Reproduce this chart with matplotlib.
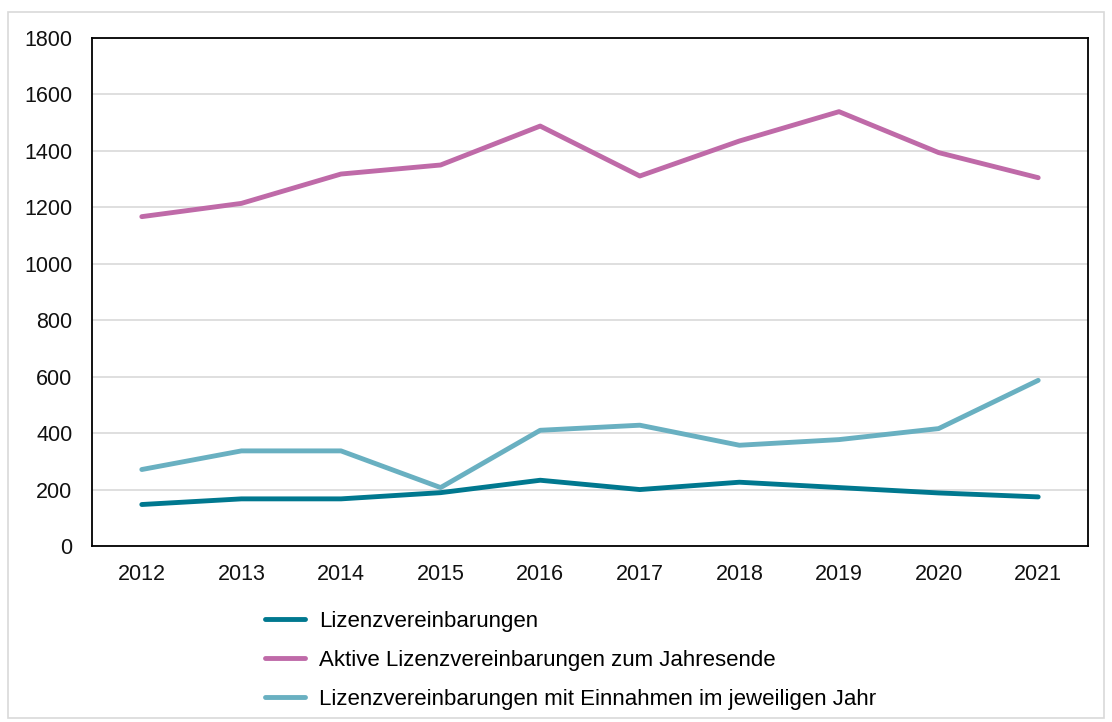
import matplotlib
matplotlib.use("Agg")
import matplotlib.pyplot as plt
from matplotlib.patches import Rectangle

plt.rcParams['font.family'] = ['Liberation Sans', 'DejaVu Sans']

years = ["2012", "2013", "2014", "2015", "2016", "2017", "2018", "2019", "2020", "2021"]
lizenz = [147, 167, 167, 189, 233, 200, 226, 207, 188, 174]
aktive = [1167, 1214, 1318, 1350, 1488, 1311, 1435, 1539, 1394, 1305]
einnahmen = [271, 337, 337, 207, 410, 428, 357, 377, 416, 587]

labels = ["Lizenzvereinbarungen",
          "Aktive Lizenzvereinbarungen zum Jahresende",
          "Lizenzvereinbarungen mit Einnahmen im jeweiligen Jahr"]
colors = ["#00788f", "#bf6aa8", "#69b0c1"]

fig = plt.figure(figsize=(11.12, 7.22), dpi=100)
ax = fig.add_axes([92 / 1112, 1 - 546 / 722, 996 / 1112, 508 / 722])

x = range(len(years))
for vals, lab, col in zip([lizenz, aktive, einnahmen], labels, colors):
    ax.plot(x, vals, color=col, lw=3.5, label=lab, solid_capstyle='round')

ax.set_xlim(-0.5, len(years) - 0.5)
ax.set_ylim(0, 1800)
ax.set_yticks(range(0, 1801, 200))
ax.set_xticks(list(x))
ax.set_xticklabels(years)
ax.tick_params(axis='both', length=0, labelsize=15.5, colors='#111111')
ax.tick_params(axis='y', pad=14)
ax.tick_params(axis='x', pad=13)
ax.grid(axis='y', color='#d9d9d9', lw=1.2)
ax.set_axisbelow(True)
for s in ax.spines.values():
    s.set_color('black')
    s.set_linewidth(1.3)

leg = fig.legend(loc='upper left', bbox_to_anchor=(265 / 1112, 1 - 611 / 722),
                 frameon=False, fontsize=16, handlelength=1.8, handletextpad=0.65,
                 labelspacing=0.8, borderpad=0, borderaxespad=0)
for h in leg.get_lines():
    h.set_linewidth(3.5)

fig.patches.append(Rectangle((8 / 1112, 4 / 722), 1096 / 1112, 706 / 722,
                             transform=fig.transFigure, fill=False,
                             edgecolor='#d9d9d9', lw=1.2))

fig.savefig("out.png", dpi=100)
